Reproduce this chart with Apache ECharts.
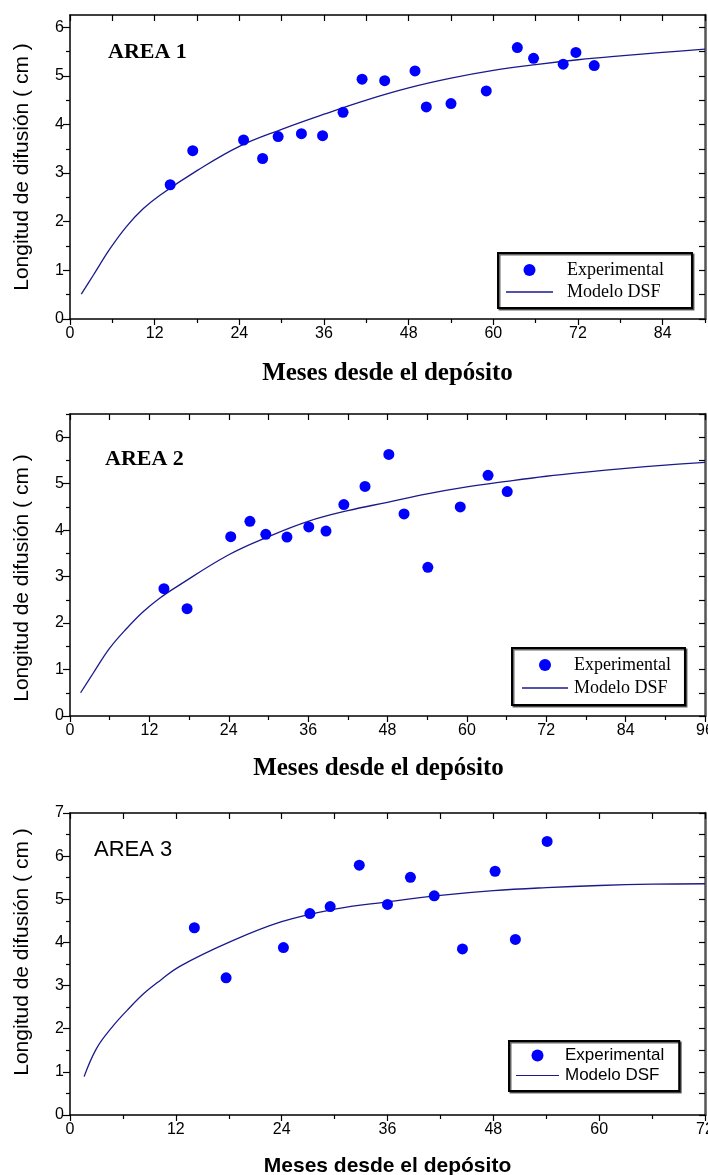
<!DOCTYPE html>
<html>
<head>
<meta charset="utf-8">
<script src="https://cdn.jsdelivr.net/npm/echarts@6/dist/echarts.min.js"></script>
<style>
  html, body { margin: 0; padding: 0; background: #fff; }
  #chart { width: 708px; height: 1175px; }
</style>
</head>
<body>
<div id="chart"></div>
<script>
// ---- AREA 1 ----
var area1Months = [14.2, 17.4, 24.6, 27.3, 29.5, 32.8, 35.8, 38.7, 41.4, 44.6, 48.9, 50.5, 54.0, 59.0, 63.4, 65.7, 69.9, 71.7, 74.3];
var area1Length = [2.76, 3.46, 3.68, 3.30, 3.75, 3.81, 3.77, 4.25, 4.93, 4.90, 5.10, 4.36, 4.43, 4.69, 5.58, 5.36, 5.24, 5.48, 5.21];
var area1ModelMonths = [1.6, 3.3, 5.7, 8, 10.4, 12.8, 18, 24, 30, 36, 42, 48, 54, 60, 66, 72, 78, 84, 90];
var area1ModelLength = [0.51, 0.9, 1.45, 1.9, 2.27, 2.55, 3.05, 3.55, 3.9, 4.21, 4.5, 4.75, 4.95, 5.11, 5.23, 5.33, 5.41, 5.48, 5.55];
var area1XTicks = [0, 12, 24, 36, 48, 60, 72, 84];
var area1YTicks = [0, 1, 2, 3, 4, 5, 6];

// ---- AREA 2 ----
var area2Months = [14.2, 17.7, 24.3, 27.2, 29.6, 32.8, 36.1, 38.7, 41.4, 44.6, 48.2, 50.5, 54.1, 59.0, 63.2, 66.1];
var area2Length = [2.74, 2.31, 3.86, 4.19, 3.91, 3.85, 4.07, 3.98, 4.55, 4.94, 5.63, 4.35, 3.20, 4.50, 5.18, 4.83];
var area2ModelMonths = [1.6, 3.5, 6, 8.6, 11.1, 13.6, 16.1, 24, 30, 36, 42, 48, 54, 60, 66, 72, 78, 84, 90, 96];
var area2ModelLength = [0.5, 0.92, 1.46, 1.89, 2.25, 2.54, 2.78, 3.47, 3.86, 4.19, 4.42, 4.6, 4.78, 4.93, 5.05, 5.16, 5.25, 5.33, 5.4, 5.46];
var area2XTicks = [0, 12, 24, 36, 48, 60, 72, 84, 96];
var area2YTicks = [0, 1, 2, 3, 4, 5, 6];

// ---- AREA 3 ----
var area3Months = [14.1, 17.7, 24.2, 27.2, 29.5, 32.8, 36.0, 38.6, 41.3, 44.5, 48.2, 50.5, 54.1];
var area3Length = [4.34, 3.18, 3.88, 4.67, 4.83, 5.79, 4.88, 5.51, 5.08, 3.85, 5.65, 4.07, 6.34];
var area3ModelMonths = [1.6, 3, 4.75, 6.5, 8.4, 10.3, 12.4, 18, 24, 30, 36, 42, 48, 54, 60, 66, 72];
var area3ModelLength = [0.89, 1.54, 2.03, 2.43, 2.82, 3.13, 3.44, 4.0, 4.48, 4.77, 4.94, 5.09, 5.2, 5.27, 5.32, 5.35, 5.36];
var area3XTicks = [0, 12, 24, 36, 48, 60, 72];
var area3YTicks = [0, 1, 2, 3, 4, 5, 6, 7];

var xTitle = 'Meses desde el depósito';
var yTitle = 'Longitud de difusión ( cm )';

var SERIF = "'Liberation Serif', 'Times New Roman', serif";
var SANS = "'Liberation Sans', Arial, sans-serif";
var NARROW = "'Liberation Sans Narrow', 'Arial Narrow', 'Liberation Sans', Arial, sans-serif";
var CURVE_COLOR = '#1a1a8c';

function zip(xs, ys) {
  return xs.map(function (x, i) { return [x, ys[i]]; });
}

function halfSteps(ticks, max) {
  // ticks every half major step, up to the axis max
  var step = (ticks[1] - ticks[0]) / 2;
  var out = [];
  for (var v = 0; v <= max + 1e-9; v += step) out.push(+v.toFixed(4));
  return out;
}

function midSteps(ticks, max) {
  return halfSteps(ticks, max).filter(function (v) { return ticks.indexOf(v) < 0; });
}

var option = {
  animation: false,
  backgroundColor: '#fff',
  title: [], grid: [], xAxis: [], yAxis: [], legend: [], series: []
};

function addPanel(p) {
  var g = option.grid.length;
  var box = { left: 70, right: 3, top: p.top, height: p.height, containLabel: false, outerBoundsMode: 'none' };
  option.grid.push(Object.assign({ show: false }, box));
  option.grid.push(Object.assign({ show: false }, box));

  var xi = option.xAxis.length;
  var yi = option.yAxis.length;
  var black = { show: true, onZero: false, lineStyle: { color: '#000', width: 1.5 } };
  var tickStyle = { color: '#000', width: 1.2 };

  // main bottom axis
  option.xAxis.push({
    type: 'value', gridIndex: g, position: 'bottom', min: 0, max: p.xMax,
    axisLine: black,
    axisTick: { show: true, inside: false, length: 6, lineStyle: tickStyle, customValues: p.xTicks },
    axisLabel: { customValues: p.xTicks, margin: 7, color: '#000', fontFamily: NARROW, fontSize: 16 },
    splitLine: { show: false },
    name: xTitle, nameLocation: 'middle', nameGap: p.xNameGap,
    nameTextStyle: { color: '#000', fontFamily: p.xNameFont, fontWeight: 'bold', fontSize: p.xNameSize, padding: p.xNamePad }
  });
  // top frame axis
  option.xAxis.push({
    type: 'value', gridIndex: g, position: 'top', min: 0, max: p.xMax,
    axisLine: black,
    axisTick: { show: true, inside: true, length: 6, lineStyle: tickStyle, customValues: halfSteps(p.xTicks, p.xMax) },
    axisLabel: { show: false }, splitLine: { show: false }
  });
  // minor ticks on the bottom
  option.xAxis.push({
    type: 'value', gridIndex: g + 1, position: 'bottom', min: 0, max: p.xMax,
    axisLine: { show: false, onZero: false },
    axisTick: { show: true, inside: false, length: 4, lineStyle: tickStyle, customValues: midSteps(p.xTicks, p.xMax) },
    axisLabel: { show: false }, splitLine: { show: false }
  });

  option.yAxis.push({
    type: 'value', gridIndex: g, position: 'left', min: 0, max: p.yMax,
    axisLine: black,
    axisTick: { show: true, inside: false, length: 7, lineStyle: tickStyle, customValues: p.yTicks },
    axisLabel: { customValues: p.yTicks, margin: 6, color: '#000', fontFamily: NARROW, fontSize: 16 },
    splitLine: { show: false },
    name: yTitle, nameLocation: 'middle', nameGap: 37,
    nameTextStyle: { color: '#000', fontFamily: SANS, fontSize: 21, padding: p.yNamePad }
  });
  option.yAxis.push({
    type: 'value', gridIndex: g, position: 'right', min: 0, max: p.yMax,
    axisLine: { show: true, onZero: false, lineStyle: { color: '#555', width: 2.5 } },
    axisTick: { show: true, inside: true, length: 6, lineStyle: tickStyle, customValues: halfSteps(p.yTicks, p.yMax) },
    axisLabel: { show: false }, splitLine: { show: false }
  });
  option.yAxis.push({
    type: 'value', gridIndex: g + 1, position: 'left', min: 0, max: p.yMax,
    axisLine: { show: false, onZero: false },
    axisTick: { show: true, inside: false, length: 4, lineStyle: tickStyle, customValues: midSteps(p.yTicks, p.yMax) },
    axisLabel: { show: false }, splitLine: { show: false }
  });

  option.series.push({
    name: 'Modelo DSF', type: 'line', xAxisIndex: xi, yAxisIndex: yi,
    data: zip(p.modelX, p.modelY), smooth: 0.4, symbol: 'none', showSymbol: false,
    lineStyle: { color: CURVE_COLOR, width: 1.3 }, itemStyle: { color: CURVE_COLOR }, z: 2
  });
  option.series.push({
    name: 'Experimental', type: 'scatter', xAxisIndex: xi, yAxisIndex: yi,
    data: zip(p.x, p.y), symbol: 'circle', symbolSize: 11,
    itemStyle: { color: '#0000ff', opacity: 1 }, z: 3
  });

  option.title.push({
    text: p.label, left: p.labelLeft, top: p.labelTop, padding: 0,
    textStyle: { color: '#000', fontFamily: p.labelFont, fontWeight: p.labelWeight, fontSize: 22 }
  });

  option.legend.push({
    data: [
      { name: 'Experimental', icon: 'circle' },
      { name: 'Modelo DSF', icon: 'path://M0,0H47V1.3H0Z' }
    ],
    orient: 'vertical', symbolKeepAspect: true,
    left: p.legendLeft, top: p.legendTop, padding: p.legendPad,
    itemWidth: p.legendLine, itemHeight: 12, itemGap: p.legendGap,
    borderColor: '#000', borderWidth: 2, backgroundColor: '#fff',
    shadowColor: 'rgba(0,0,0,0.6)', shadowOffsetX: 1.5, shadowOffsetY: 1.5,
    textStyle: { color: '#000', fontFamily: p.legendFont, fontSize: p.legendSize, padding: [0, 0, 0, p.legendTextPad] }
  });
}

addPanel({
  top: 15, height: 304, xMax: 90, yMax: 6.25,
  x: area1Months, y: area1Length, modelX: area1ModelMonths, modelY: area1ModelLength,
  xTicks: area1XTicks, yTicks: area1YTicks,
  xNameFont: SERIF, xNameSize: 25, xNameGap: 42, xNamePad: 0, yNamePad: 0,
  label: 'AREA 1', labelLeft: 108, labelTop: 41, labelFont: SERIF, labelWeight: 'bold',
  legendLeft: 498, legendTop: 253, legendPad: [8, 28, 7, 8], legendGap: 4,
  legendLine: 47, legendTextPad: 9, legendFont: SERIF, legendSize: 18
});

addPanel({
  top: 414, height: 302, xMax: 96, yMax: 6.5,
  x: area2Months, y: area2Length, modelX: area2ModelMonths, modelY: area2ModelLength,
  xTicks: area2XTicks, yTicks: area2YTicks,
  xNameFont: SERIF, xNameSize: 25, xNameGap: 40, xNamePad: [0, 18, 0, 0], yNamePad: [0, 26, 0, 0],
  label: 'AREA 2', labelLeft: 105, labelTop: 448, labelFont: SERIF, labelWeight: 'bold',
  legendLeft: 512, legendTop: 648, legendPad: [8, 14, 8, 10], legendGap: 5,
  legendLine: 46, legendTextPad: 1, legendFont: SERIF, legendSize: 18
});

addPanel({
  top: 813, height: 302, xMax: 72, yMax: 7,
  x: area3Months, y: area3Length, modelX: area3ModelMonths, modelY: area3ModelLength,
  xTicks: area3XTicks, yTicks: area3YTicks,
  xNameFont: SANS, xNameSize: 21, xNameGap: 41, xNamePad: 0, yNamePad: [0, 0, 0, 24],
  label: 'AREA 3', labelLeft: 94, labelTop: 839, labelFont: SANS, labelWeight: 'normal',
  legendLeft: 509, legendTop: 1041, legendPad: [6, 15, 7, 7], legendGap: 3,
  legendLine: 43, legendTextPad: 1, legendFont: SANS, legendSize: 17
});

var chart = echarts.init(document.getElementById('chart'), null, { renderer: 'canvas' });
chart.setOption(option);
</script>
</body>
</html>
